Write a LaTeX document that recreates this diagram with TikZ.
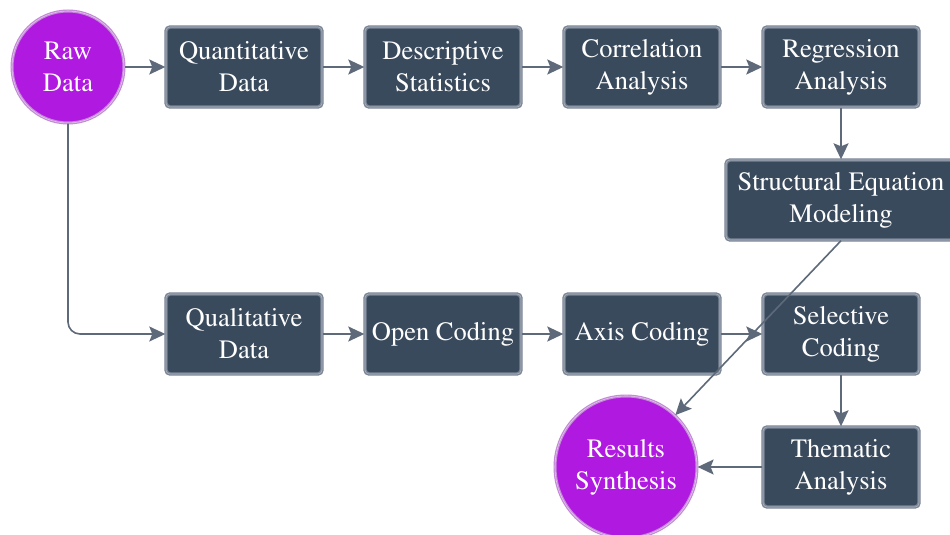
\documentclass[tikz,border=0pt]{standalone}
\usepackage[T1]{fontenc}
\renewcommand{\rmdefault}{ptm}
\usetikzlibrary{arrows.meta,positioning}
\definecolor{boxfill}{HTML}{3A4A5D}
\definecolor{boxline}{HTML}{7A8596}
\definecolor{circfill}{HTML}{B01AE0}
\definecolor{circline}{HTML}{C48AD8}
\definecolor{edgecol}{HTML}{5E6A7A}
\tikzset{
  stepbox/.style={rectangle, rounded corners=4pt, fill=boxfill, draw=boxline, line width=1.4pt,
    double=boxline!60!white, double distance=0.6pt,
    minimum width=156pt, minimum height=80pt, text=white, align=center,
    font=\rmfamily\fontsize{26.5}{32}\selectfont, inner sep=2pt},
  termcirc/.style={circle, fill=circfill, draw=circline, line width=1.2pt,
    double=circline!50!white, double distance=0.6pt, text=white, align=center,
    font=\rmfamily\fontsize{26.5}{32}\selectfont, inner sep=0pt},
  conn/.style={draw=edgecol, line width=1.6pt, -{Stealth[length=16pt,width=15pt,inset=3pt]}}
}
\begin{document}
\begin{tikzpicture}[x=1pt,y=-1pt]
\useasboundingbox (0,0) rectangle (950,535);
\fill[white] (0,0) rectangle (950,535);
\node[termcirc, minimum size=112pt] (raw) at (68,67) {Raw\\Data};
\node[stepbox] (quant) at (244,67) {Quantitative\\Data};
\node[stepbox] (desc) at (443,67) {Descriptive\\Statistics};
\node[stepbox] (corr) at (642,67) {Correlation\\Analysis};
\node[stepbox] (regr) at (841,67) {Regression\\Analysis};
\node[stepbox, minimum width=230pt] (sem) at (841,200) {Structural Equation\\Modeling};
\node[stepbox] (qual) at (244,334) {Qualitative\\Data};
\node[stepbox] (open) at (443,334) {Open Coding};
\node[stepbox] (axis) at (642,334) {Axis Coding};
\node[stepbox] (sel) at (841,334) {Selective\\Coding};
\node[stepbox] (them) at (841,467) {Thematic\\Analysis};
\node[termcirc, minimum size=142pt] (res) at (626,467) {Results\\Synthesis};

\draw[conn] (raw) -- (quant);
\draw[conn] (quant) -- (desc);
\draw[conn] (desc) -- (corr);
\draw[conn] (corr) -- (regr);
\draw[conn] (regr) -- (sem);
\draw[conn, rounded corners=12pt] (raw.south) |- (qual.west);
\draw[conn] (qual) -- (open);
\draw[conn] (open) -- (axis);
\draw[conn] (axis) -- (sel);
\draw[conn] (sel) -- (them);
\draw[conn] (them) -- (res);
\draw[conn] (sem.south) -- (res);
\end{tikzpicture}
\end{document}
